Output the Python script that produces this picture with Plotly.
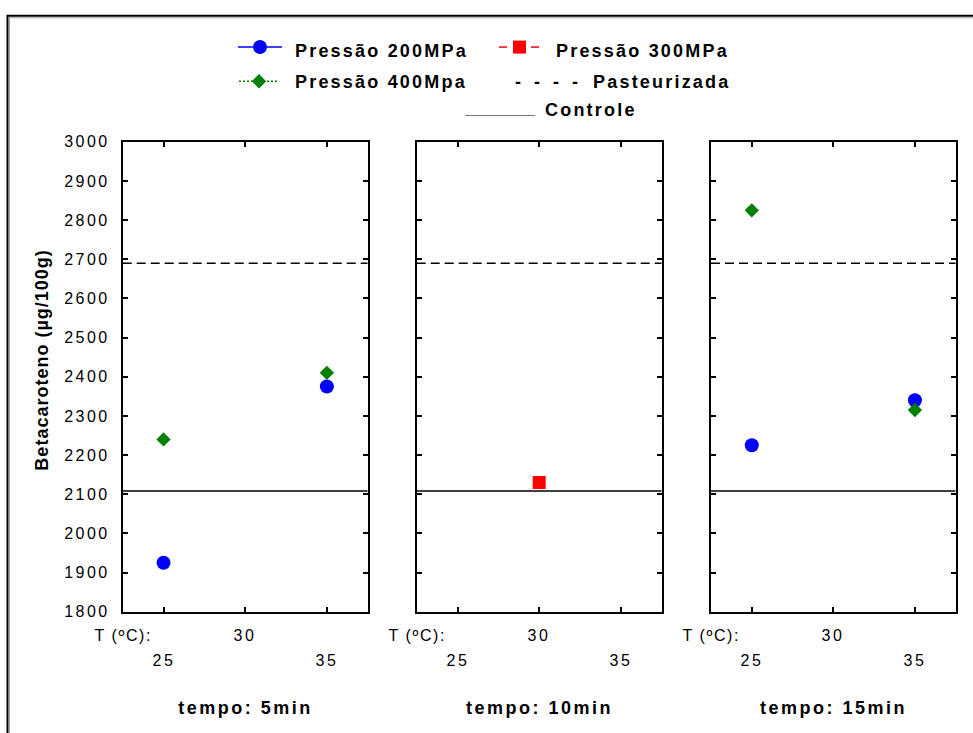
import json
import plotly.graph_objects as go

# ---------------- data ----------------
temps_5 = [25, 35]
p200_5 = [1925, 2375]
p400_5 = [2240, 2410]

temps_10 = [30]
p300_10 = [2130]

temps_15 = [25, 35]
p200_15 = [2225, 2340]
p400_15 = [2825, 2315]

pasteurizada = 2690
controle = 2108

x_range = [22.5, 37.5]
tick_vals = [25, 30, 35]
tick_row1 = [30]
tick_row2 = [25, 35]
y_range = [1800, 3000]
y_ticks = list(range(1800, 3001, 100))
panel_titles = ["tempo: 5min", "tempo: 10min", "tempo: 15min"]
x_prefix = "T (ºC):"
y_title = "Betacaroteno (µg/100g)"
legend_labels = ["Pressão 200MPa", "Pressão 300MPa", "Pressão 400Mpa", "Pasteurizada", "Controle"]

# ---------------- style ----------------
W, H = 973, 733
BLUE = "#0000FF"
RED = "#FF0000"
GREEN = "#008000"
FONT = "Liberation Sans, Arial, sans-serif"

domains = [[122.7 / W, 367.7 / W], [416.7 / W, 661.7 / W], [711 / W, 955.7 / W]]
ydom = [1 - 618 / H, 1 - 137 / H]

fig = go.Figure()

panels = [
    [(temps_5, p200_5, BLUE, "circle", 14, legend_labels[0]),
     (temps_5, p400_5, GREEN, "diamond", 11, legend_labels[2])],
    [(temps_10, p300_10, RED, "square", 13, legend_labels[1])],
    [(temps_15, p200_15, BLUE, "circle", 14, legend_labels[0]),
     (temps_15, p400_15, GREEN, "diamond", 11, legend_labels[2])],
]

for i, series in enumerate(panels):
    xa = "x" if i == 0 else f"x{i+1}"
    ya = "y" if i == 0 else f"y{i+1}"
    fig.add_trace(go.Scatter(x=x_range, y=[pasteurizada, pasteurizada], mode="lines",
                             line=dict(color="black", width=1.5, dash="9px,5px"),
                             xaxis=xa, yaxis=ya, name=legend_labels[3], hoverinfo="skip"))
    fig.add_trace(go.Scatter(x=x_range, y=[controle, controle], mode="lines",
                             line=dict(color="black", width=1.5),
                             xaxis=xa, yaxis=ya, name=legend_labels[4], hoverinfo="skip"))
    for xs, ys, col, sym, sz, nm in series:
        fig.add_trace(go.Scatter(x=xs, y=ys, mode="markers", name=nm,
                                 marker=dict(color=col, symbol=sym, size=sz, line=dict(width=0)),
                                 xaxis=xa, yaxis=ya))

axis_common = dict(showgrid=False, zeroline=False, showline=True, linecolor="black",
                   linewidth=2, ticks="inside", ticklen=5, tickwidth=1.5,
                   tickcolor="black", mirror="ticks")

layout = dict(width=W, height=H, autosize=False, margin=dict(l=0, r=0, t=0, b=0, pad=0),
              paper_bgcolor="white", plot_bgcolor="rgba(0,0,0,0)", showlegend=False,
              font=dict(family=FONT, color="black"))

for i in range(3):
    xk = "xaxis" if i == 0 else f"xaxis{i+1}"
    yk = "yaxis" if i == 0 else f"yaxis{i+1}"
    ya = "y" if i == 0 else f"y{i+1}"
    xa = "x" if i == 0 else f"x{i+1}"
    layout[xk] = dict(domain=domains[i], range=x_range, tickvals=tick_vals,
                      showticklabels=False, anchor=ya, **axis_common)
    layout[yk] = dict(domain=ydom, range=y_range, tickvals=y_ticks,
                      showticklabels=(i == 0), anchor=xa, ticklabelstandoff=8,
                      tickfont=dict(size=16, family=FONT, color="black"), **axis_common)

# overlay pixel axis for legend keys
layout["xaxis4"] = dict(domain=[0, 1], range=[0, W], visible=False, anchor="y4", fixedrange=True)
layout["yaxis4"] = dict(domain=[0, 1], range=[H, 0], visible=False, anchor="x4", fixedrange=True)
fig.update_layout(**layout)

# legend keys
fig.add_trace(go.Scatter(x=[238, 282], y=[40, 40], mode="lines", line=dict(color=BLUE, width=1.5),
                         xaxis="x4", yaxis="y4", hoverinfo="skip"))
fig.add_trace(go.Scatter(x=[260], y=[40], mode="markers", marker=dict(color=BLUE, symbol="circle", size=14),
                         xaxis="x4", yaxis="y4", hoverinfo="skip"))
fig.add_trace(go.Scatter(x=[499, 507, None, 531, 539], y=[40, 40, None, 40, 40], mode="lines",
                         line=dict(color=RED, width=1.5), xaxis="x4", yaxis="y4", hoverinfo="skip"))
fig.add_trace(go.Scatter(x=[519.5], y=[40], mode="markers", marker=dict(color=RED, symbol="square", size=13),
                         xaxis="x4", yaxis="y4", hoverinfo="skip"))
fig.add_trace(go.Scatter(x=[239, 277], y=[75, 75], mode="lines",
                         line=dict(color=GREEN, width=1.5, dash="2px,2px"),
                         xaxis="x4", yaxis="y4", hoverinfo="skip"))
fig.add_trace(go.Scatter(x=[259], y=[75], mode="markers", marker=dict(color=GREEN, symbol="diamond", size=11),
                         xaxis="x4", yaxis="y4", hoverinfo="skip"))

ann = []
spacing = []


def px(x):
    return x / W


def py(y):
    return 1 - y / H


LEG = dict(family=FONT, size=18, color="black", weight="bold")
for txt, x, y, s in [(legend_labels[0], 293, 44, 2.2), (legend_labels[1], 554, 44, 2.2),
                     (legend_labels[2], 293, 76, 2.2), ("-  -  -  -", 513, 76, 1.0),
                     (legend_labels[3], 591, 76, 2.2), ("_______", 462, 102, 0.0),
                     (legend_labels[4], 543, 104, 2.2)]:
    ann.append(dict(text=txt, x=px(x), y=py(y), xref="paper", yref="paper",
                    xanchor="left", yanchor="middle", align="left", showarrow=False, font=LEG))
    spacing.append(s)

# x tick labels (staggered) and panel titles
TICK = dict(family=FONT, size=16, color="black")
for i in range(3):
    xa = "x" if i == 0 else f"x{i+1}"
    ann.append(dict(text=x_prefix, x=x_range[0], y=py(642), xref=xa, yref="paper",
                    xanchor="center", yanchor="middle", showarrow=False, font=TICK))
    spacing.append(1.6)
    for v in tick_row1:
        ann.append(dict(text=str(v), x=v, y=py(642), xref=xa, yref="paper",
                        xanchor="center", yanchor="middle", showarrow=False, font=TICK))
        spacing.append(2.4)
    for v in tick_row2:
        ann.append(dict(text=str(v), x=v, y=py(668), xref=xa, yref="paper",
                        xanchor="center", yanchor="middle", showarrow=False, font=TICK))
        spacing.append(2.4)
    ann.append(dict(text=panel_titles[i], x=sum(x_range) / 2, y=py(717), xref=xa, yref="paper",
                    xanchor="center", yanchor="middle", showarrow=False,
                    font=dict(family=FONT, size=18, color="black", weight="bold")))
    spacing.append(2.5)

ann.append(dict(text=y_title, x=px(42), y=py(361), xref="paper", yref="paper", textangle=-90,
                xanchor="center", yanchor="middle", showarrow=False,
                font=dict(family=FONT, size=18, color="black", weight="bold")))
spacing.append(1.0)

fig.update_layout(annotations=ann)

# outer frame with a faint inner bevel line
fig.add_shape(type="rect", xref="paper", yref="paper", x0=9.5 / W, x1=1.05, y0=-0.05, y1=1 - 10 / H,
              line=dict(color="#A0A0A0", width=1), fillcolor="rgba(0,0,0,0)", layer="above")
fig.add_shape(type="rect", xref="paper", yref="paper", x0=7.5 / W, x1=1.05, y0=-0.05, y1=1 - 8 / H,
              line=dict(color="black", width=2), fillcolor="rgba(0,0,0,0)", layer="above")

post = """
document.documentElement.style.margin='0';
document.body.style.margin='0';
document.body.style.padding='0';
document.body.style.overflow='hidden';
var gd = document.getElementById('{plot_id}');
gd.style.position='absolute'; gd.style.left='0px'; gd.style.top='0px';
var sp = SPACING;
gd.querySelectorAll('.annotation').forEach(function(g){
  var idx = parseInt(g.getAttribute('data-index'));
  var t = g.querySelector('.annotation-text');
  if (t && !isNaN(idx) && idx < sp.length) { t.style.letterSpacing = sp[idx] + 'px'; }
});
gd.querySelectorAll('.ytick text').forEach(function(t){ t.style.letterSpacing='2.4px'; });
""".replace("SPACING", json.dumps(spacing))

fig.write_html("out.html", post_script=post, config={"responsive": False, "displayModeBar": False})
